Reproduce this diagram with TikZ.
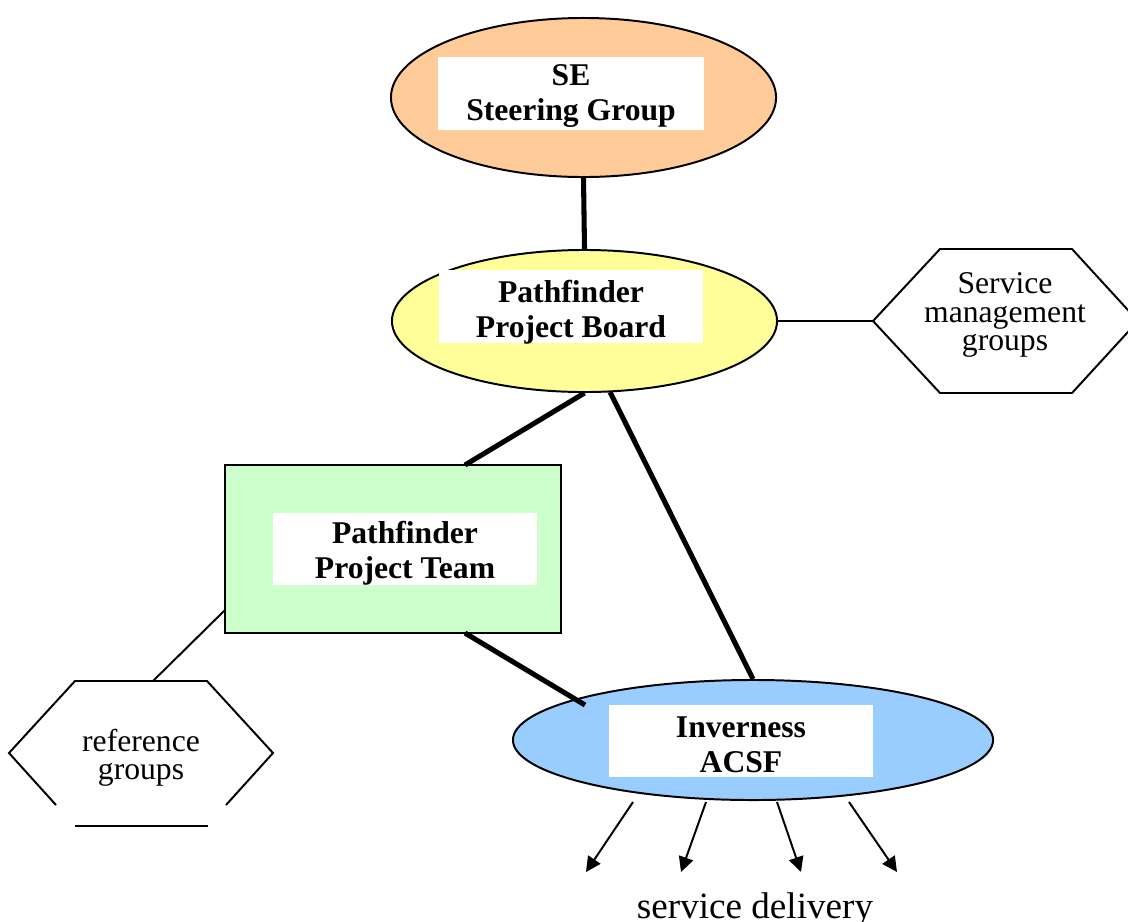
\documentclass[tikz,border=0pt]{standalone}
\usepackage{fontspec}
\setmainfont{Liberation Serif}
\usetikzlibrary{shapes.geometric,arrows.meta}
\definecolor{seorange}{HTML}{FFCC99}
\definecolor{pbyellow}{HTML}{FFFF99}
\definecolor{ptgreen}{HTML}{CCFFCC}
\definecolor{acblue}{HTML}{99CCFF}
\tikzset{
  ell/.style={ellipse, draw=black, line width=1.4pt, inner sep=0pt},
  lblbox/.style={fill=white, inner sep=0pt},
  lbltext/.style={inner sep=0pt, align=center, font=\fontsize{22.5}{25}\selectfont\bfseries},
  hextext/.style={inner sep=0pt, align=center, font=\fontsize{22.5}{20}\selectfont},
  hexline/.style={line width=1.4pt, line join=miter},
  thickcon/.style={line width=3.6pt},
  thincon/.style={line width=1.4pt},
  outarrow/.style={line width=1.4pt, -{Triangle[length=10.7pt,width=10.5pt]}}
}
\begin{document}
\begin{tikzpicture}[x=0.025cm,y=-0.025cm]
\useasboundingbox (0,0) rectangle (1128,921);
\clip (0,0) rectangle (1128,921);
% main shapes
\node[ell, fill=seorange, minimum width=9.625cm, minimum height=3.975cm] (se) at (583.5,97.5) {};
\node[lblbox, minimum width=6.65cm, minimum height=1.825cm] (selbl) at (571,93.5) {};
\node[lbltext] (setext) at (571,96) {SE\\Steering Group};
\node[ell, fill=pbyellow, minimum width=9.625cm, minimum height=3.55cm] (board) at (584.5,321) {};
\node[lblbox, minimum width=6.6cm, minimum height=1.825cm] (boardlbl) at (571,306.5) {};
\node[lbltext] (boardtext) at (571,312) {Pathfinder\\Project Board};
\node[draw=black, line width=1.4pt, fill=ptgreen, minimum width=8.4cm, minimum height=4.2cm, inner sep=0pt] (team) at (393,549) {};
\node[lblbox, minimum width=6.6cm, minimum height=1.8cm] (teamlbl) at (405,549) {};
\node[lbltext] (teamtext) at (405,553) {Pathfinder\\Project Team};
\node[ell, fill=acblue, minimum width=12cm, minimum height=3cm] (acsf) at (753,740) {};
\node[lblbox, minimum width=6.6cm, minimum height=1.8cm] (acsflbl) at (741,741) {};
\node[lbltext] (acsftext) at (741,745) {Inverness\\ACSF};
% right hexagon
\node[hextext] (smg) at (1005,315) {Service\\management\\groups};
\coordinate (smgL) at (873,321);
\draw[hexline] (smgL) -- (940,249) -- (1072,249) -- (1138,321) -- (1072,393) -- (940,393) -- cycle;
% left hexagon (lower corners broken)
\node[hextext] (ref) at (141,758) {reference\\groups};
\coordinate (refT) at (153,681);
\draw[hexline] (56,805) -- (9,753) -- (75,681) -- (207,681) -- (273,753) -- (226,805);
\draw[thincon] (75,826) -- (208,826);
% connector end points
\coordinate (t1) at (465,465);
\coordinate (t2) at (465,633);
\coordinate (t3) at (225,610);
\coordinate (b2) at (610,392);
\coordinate (a1) at (585,705);
% connectors
\draw[thickcon] (se.south) -- (board.north);
\draw[thincon] (board.east) -- (smgL);
\draw[thickcon] (board.south) -- (t1);
\draw[thickcon] (b2) -- (acsf.north);
\draw[thickcon] (t2) -- (a1);
\draw[thincon] (t3) -- (refT);
% service delivery arrows
\coordinate (s1) at (633,802);
\coordinate (s2) at (706,802);
\coordinate (s3) at (777,802);
\coordinate (s4) at (849,802);
\coordinate (e1) at (586,872);
\coordinate (e2) at (681,872);
\coordinate (e3) at (801,872);
\coordinate (e4) at (897,872);
\draw[outarrow] (s1) -- (e1);
\draw[outarrow] (s2) -- (e2);
\draw[outarrow] (s3) -- (e3);
\draw[outarrow] (s4) -- (e4);
\node[anchor=base, inner sep=0pt, font=\fontsize{26.4}{30}\selectfont] (sd) at (755,918) {service delivery};
\end{tikzpicture}
\end{document}
